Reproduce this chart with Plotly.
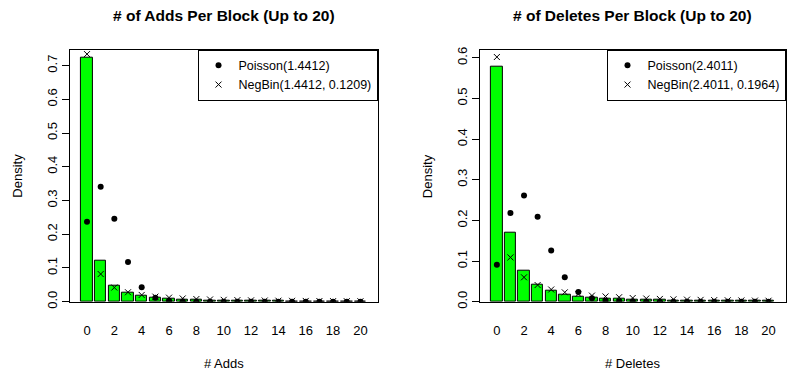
import plotly.graph_objects as go

counts = list(range(21))
tick_vals = list(range(0, 21, 2))

adds_obs = [0.724, 0.122, 0.048, 0.026, 0.017, 0.012, 0.008, 0.006, 0.005, 0.004, 0.003,
            0.0025, 0.002, 0.0018, 0.0015, 0.0013, 0.0011, 0.001, 0.0009, 0.0008, 0.0007]
adds_pois = [0.237, 0.341, 0.246, 0.118, 0.043, 0.012, 0.003, 0.0006, 0.0001, 0.0, 0.0,
             0.0, 0.0, 0.0, 0.0, 0.0, 0.0, 0.0, 0.0, 0.0, 0.0]
adds_nb = [0.734, 0.082, 0.042, 0.028, 0.020, 0.015, 0.012, 0.0096, 0.0079, 0.0066, 0.0055,
           0.0047, 0.0040, 0.0035, 0.0030, 0.0026, 0.0023, 0.0020, 0.0017, 0.0015, 0.0013]

dels_obs = [0.579, 0.171, 0.076, 0.042, 0.026, 0.018, 0.013, 0.0096, 0.008, 0.0064, 0.005,
            0.0045, 0.004, 0.0035, 0.003, 0.0027, 0.0024, 0.0021, 0.0019, 0.0017, 0.0015]
dels_pois = [0.091, 0.218, 0.261, 0.209, 0.126, 0.060, 0.024, 0.0083, 0.0025, 0.0007, 0.0002,
             0.0, 0.0, 0.0, 0.0, 0.0, 0.0, 0.0, 0.0, 0.0, 0.0]
dels_nb = [0.602, 0.109, 0.060, 0.041, 0.030, 0.023, 0.019, 0.015, 0.013, 0.011, 0.0091,
           0.0078, 0.0068, 0.0059, 0.0051, 0.0045, 0.0039, 0.0035, 0.0031, 0.0027, 0.0024]

titles = ["# of Adds Per Block (Up to 20)", "# of Deletes Per Block (Up to 20)"]
xtitles = ["# Adds", "# Deletes"]
pois_names = ["Poisson(1.4412)", "Poisson(2.4011)"]
nb_names = ["NegBin(1.4412, 0.1209)", "NegBin(2.4011, 0.1964)"]
y_tops = [0.747, 0.62]
y_ticks = [[0.0, 0.1, 0.2, 0.3, 0.4, 0.5, 0.6, 0.7], [0.0, 0.1, 0.2, 0.3, 0.4, 0.5, 0.6]]

W, H = 787, 370
FONT = "Liberation Sans, Arial, Helvetica, sans-serif"
x_doms = [[70 / W, 378 / W], [480.5 / W, 786.5 / W]]
y_dom = [(H - 307) / H, (H - 48) / H]

fig = go.Figure()
panels = [(adds_obs, adds_pois, adds_nb), (dels_obs, dels_pois, dels_nb)]
for i, (obs, pois, nb) in enumerate(panels):
    xa = "x" if i == 0 else "x2"
    ya = "y" if i == 0 else "y2"
    lg = "legend" if i == 0 else "legend2"
    fig.add_trace(go.Bar(x=counts, y=obs, width=1 / 1.2, marker=dict(color="#00FF00",
                         line=dict(color="black", width=1)), showlegend=False,
                         xaxis=xa, yaxis=ya))
    fig.add_trace(go.Scatter(x=counts, y=pois, mode="markers", name=pois_names[i],
                             marker=dict(symbol="circle", size=6, color="black"),
                             xaxis=xa, yaxis=ya, legend=lg))
    fig.add_trace(go.Scatter(x=counts, y=nb, mode="markers", name=nb_names[i],
                             marker=dict(symbol="x-thin", size=6, color="black",
                                         line=dict(color="black", width=1)),
                             xaxis=xa, yaxis=ya, legend=lg))

axis_common = dict(showline=True, linecolor="black", linewidth=1, mirror=True,
                   showgrid=False, zeroline=False,
                   tickfont=dict(family=FONT, size=13, color="black"))
for i in range(2):
    sx = "" if i == 0 else "2"
    fig.layout["xaxis" + sx] = dict(axis_common, domain=x_doms[i], range=[-1.25, 21.25],
                                    tickmode="array", tickvals=tick_vals,
                                    ticks="outside", ticklen=17, tickcolor="rgba(0,0,0,0)",
                                    anchor="y" + sx)
    fig.layout["yaxis" + sx] = dict(axis_common, domain=y_dom, range=[0, y_tops[i]],
                                    tickmode="array", tickvals=y_ticks[i], tickformat=".1f",
                                    ticks="outside", ticklen=7, tickcolor="black",
                                    tickangle=-90, anchor="x" + sx)

legend_common = dict(bordercolor="black", borderwidth=1, bgcolor="white",
                     font=dict(family=FONT, size=12.5, color="black"),
                     xanchor="right", yanchor="top", itemwidth=30,
                     tracegroupgap=0)
fig.layout["legend"] = dict(legend_common, x=x_doms[0][1], y=y_dom[1])
fig.layout["legend2"] = dict(legend_common, x=x_doms[1][1], y=y_dom[1])

for i in range(2):
    cx = (x_doms[i][0] + x_doms[i][1]) / 2
    fig.add_annotation(text="<b>" + titles[i] + "</b>", x=cx, y=(H - 13) / H,
                       xref="paper", yref="paper", showarrow=False,
                       font=dict(family=FONT, size=15.5, color="black"),
                       xanchor="center", yanchor="middle")
    fig.add_annotation(text=xtitles[i], x=cx, y=0, xref="paper", yref="paper",
                       showarrow=False, font=dict(family=FONT, size=13, color="black"),
                       xanchor="center", yanchor="middle")
    ylx = 18 / W if i == 0 else 428 / W
    fig.add_annotation(text="Density", x=ylx, y=(y_dom[0] + y_dom[1]) / 2,
                       xref="paper", yref="paper", showarrow=False, textangle=-90,
                       font=dict(family=FONT, size=13, color="black"),
                       xanchor="center", yanchor="middle")

fig.update_layout(width=W, height=H, margin=dict(l=0, r=0, t=0, b=0),
                  paper_bgcolor="white", plot_bgcolor="white", bargap=0)
fig.write_html("out.html")
